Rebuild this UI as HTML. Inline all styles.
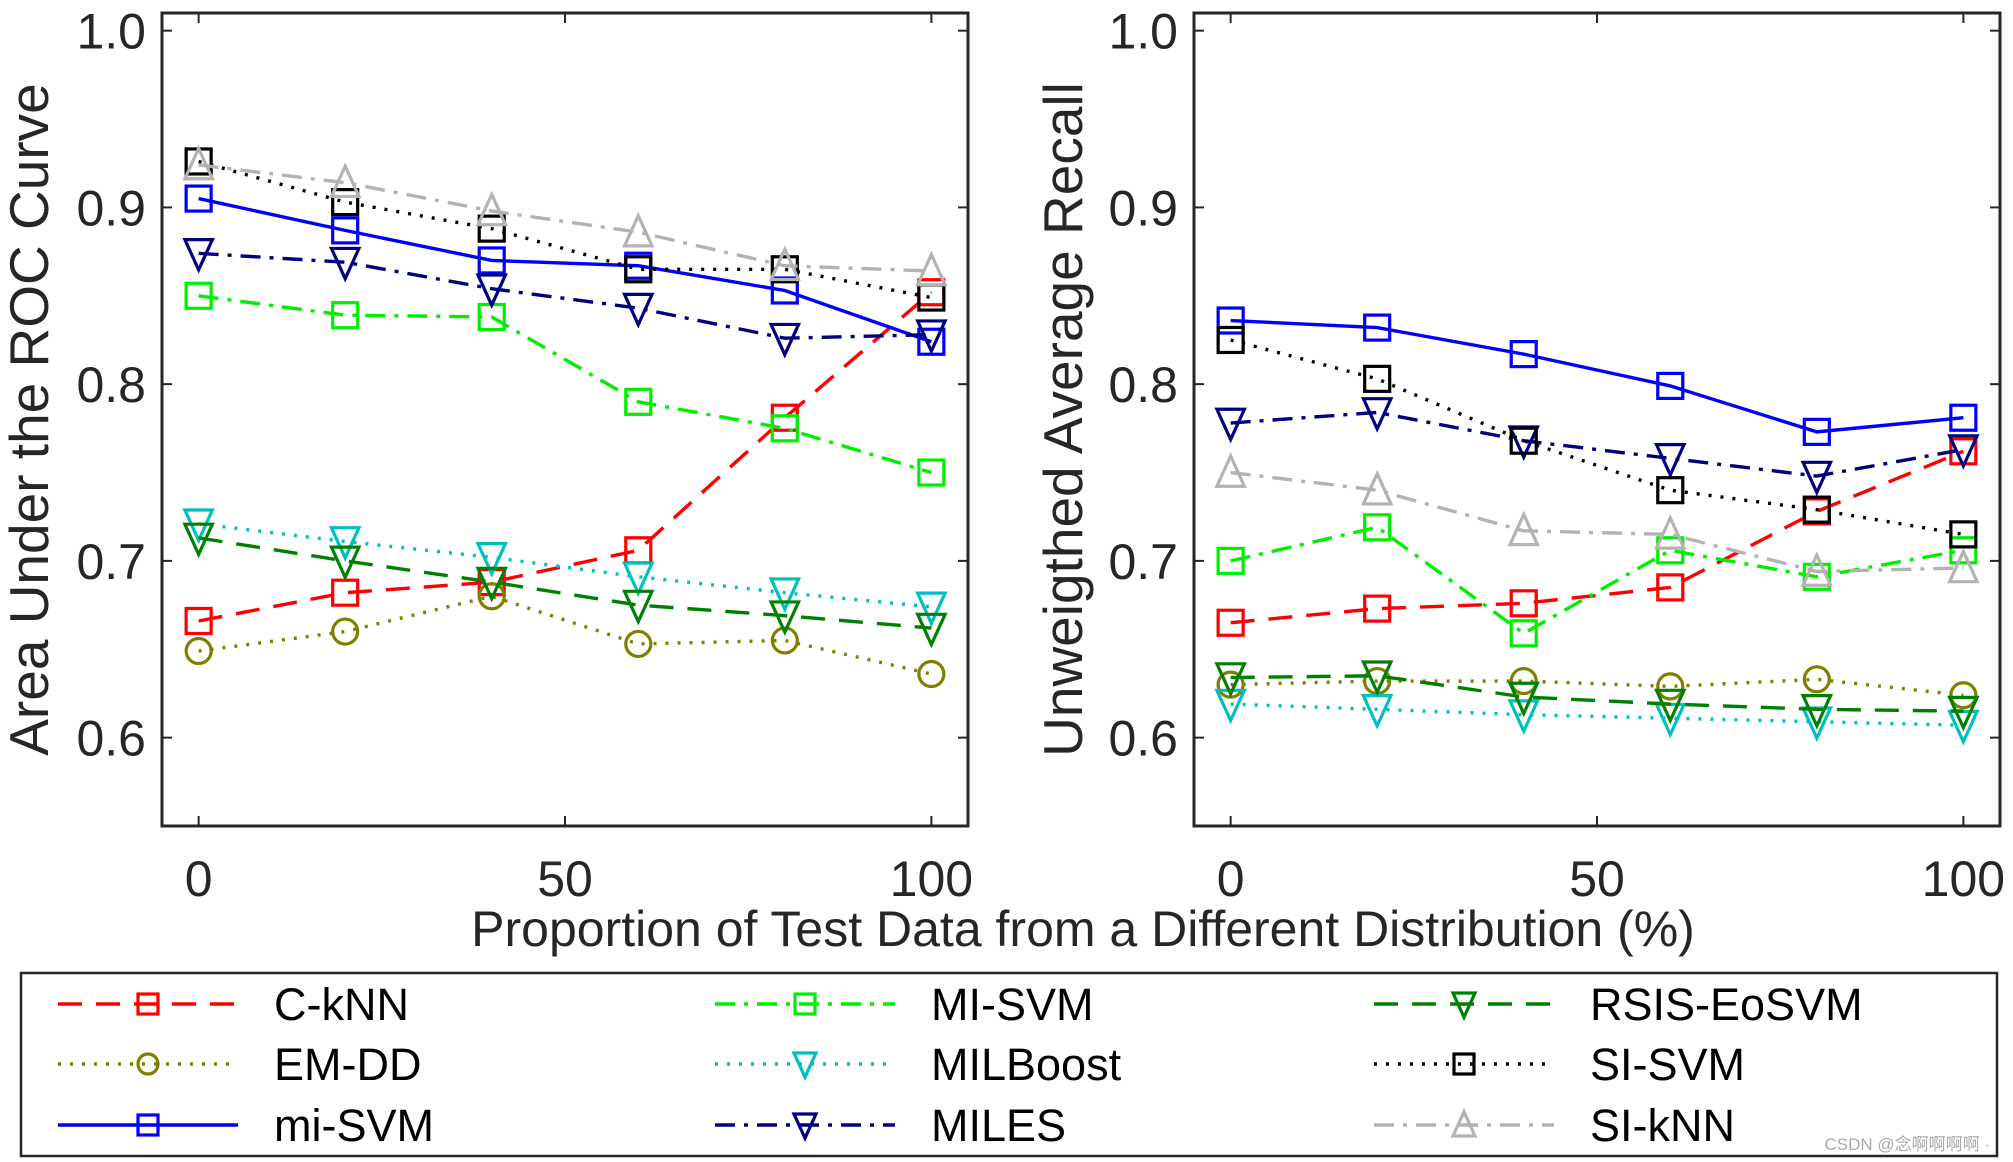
<!DOCTYPE html>
<html><head><meta charset="utf-8"><style>
html,body{margin:0;padding:0;background:#fff;}
svg{display:block;font-family:"Liberation Sans",sans-serif;}
</style></head><body>
<svg id="chart" width="2013" height="1162" viewBox="0 0 2013 1162" xmlns="http://www.w3.org/2000/svg"></svg>
<script>
const xValues = [0, 20, 40, 60, 80, 100];
const xTicks = [0, 50, 100];
const yTicks = [0.6, 0.7, 0.8, 0.9, 1.0];
const yTickLabels = ["0.6", "0.7", "0.8", "0.9", "1.0"];
const seriesNames = ["C-kNN","EM-DD","mi-SVM","MI-SVM","MILBoost","MILES","RSIS-EoSVM","SI-SVM","SI-kNN"];
const aucCkNN   = [0.666,0.682,0.688,0.706,0.781,0.852];
const aucEMDD   = [0.649,0.660,0.680,0.653,0.655,0.636];
const aucmiSVM  = [0.905,0.887,0.870,0.867,0.853,0.824];
const aucMISVM  = [0.850,0.839,0.838,0.790,0.775,0.750];
const aucMILBoost=[0.721,0.711,0.702,0.691,0.682,0.674];
const aucMILES  = [0.874,0.869,0.854,0.843,0.826,0.828];
const aucRSIS   = [0.713,0.700,0.688,0.675,0.669,0.662];
const aucSISVM  = [0.926,0.903,0.888,0.865,0.865,0.849];
const aucSIkNN  = [0.924,0.914,0.898,0.886,0.867,0.864];
const uarCkNN   = [0.665,0.673,0.676,0.685,0.728,0.762];
const uarEMDD   = [0.630,0.632,0.632,0.629,0.633,0.624];
const uarmiSVM  = [0.836,0.832,0.817,0.799,0.773,0.781];
const uarMISVM  = [0.700,0.719,0.659,0.706,0.691,0.706];
const uarMILBoost=[0.619,0.616,0.613,0.611,0.609,0.607];
const uarMILES  = [0.778,0.784,0.768,0.758,0.748,0.763];
const uarRSIS   = [0.634,0.635,0.623,0.619,0.616,0.615];
const uarSISVM  = [0.825,0.803,0.768,0.740,0.729,0.715];
const uarSIkNN  = [0.750,0.740,0.717,0.715,0.694,0.696];

const styles = [
 {c:"#ff0000",d:"24,14",m:"sq"},
 {c:"#808000",d:"3,9",m:"ci"},
 {c:"#0000ff",d:"",m:"sq"},
 {c:"#00ee00",d:"20,9,4,9",m:"sq"},
 {c:"#00bfbf",d:"3,9",m:"dn"},
 {c:"#000080",d:"20,9,4,9",m:"dn"},
 {c:"#008000",d:"24,14",m:"dn"},
 {c:"#000000",d:"3,9",m:"sq"},
 {c:"#b3b3b3",d:"20,9,4,9",m:"up"}
];
const aucSeries=[aucCkNN,aucEMDD,aucmiSVM,aucMISVM,aucMILBoost,aucMILES,aucRSIS,aucSISVM,aucSIkNN];
const uarSeries=[uarCkNN,uarEMDD,uarmiSVM,uarMISVM,uarMILBoost,uarMILES,uarRSIS,uarSISVM,uarSIkNN];
const NS="http://www.w3.org/2000/svg";
const svg=document.getElementById('chart');
function el(tag,attrs,parent){const e=document.createElementNS(NS,tag);for(const k in attrs)e.setAttribute(k,attrs[k]);(parent||svg).appendChild(e);return e;}
function marker(g,type,x,y,c,s){
  if(type==="sq") return el('rect',{x:x-s/2,y:y-s/2,width:s,height:s,fill:"none",stroke:c,"stroke-width":3.2},g);
  if(type==="ci") return el('circle',{cx:x,cy:y,r:s/2,fill:"none",stroke:c,"stroke-width":3.2},g);
  const h=s*0.55;
  if(type==="dn") return el('polygon',{points:`${x-h},${y-h} ${x+h},${y-h} ${x},${y+h*1.2}`,fill:"none",stroke:c,"stroke-width":3.2},g);
  return el('polygon',{points:`${x-h},${y+h} ${x+h},${y+h} ${x},${y-h*1.2}`,fill:"none",stroke:c,"stroke-width":3.2},g);
}
function panel(name,L,R,T,B,series,ylabel,ylx){
  const g=el('g',{});
  
  
  const xs=v=>L+(v+5)/110*(R-L);
  const ys=v=>B-(v-0.55)/(1.01-0.55)*(B-T);
  const box=el('rect',{x:L,y:T,width:R-L,height:B-T,fill:"none",stroke:"#262626","stroke-width":3},g);
  
  
  xTicks.forEach(t=>{const x=xs(t);
    el('line',{x1:x,y1:B,x2:x,y2:B-10,stroke:"#262626","stroke-width":2},g);
    el('line',{x1:x,y1:T,x2:x,y2:T+10,stroke:"#262626","stroke-width":2},g);
    const tx=el('text',{x:x,y:B+70,"text-anchor":"middle","font-size":50,fill:"#262626"},g);tx.textContent=t;
    
    
  });
  yTicks.forEach((t,i)=>{const y=ys(t);
    el('line',{x1:L,y1:y,x2:L+10,y2:y,stroke:"#262626","stroke-width":2},g);
    el('line',{x1:R,y1:y,x2:R-10,y2:y,stroke:"#262626","stroke-width":2},g);
    const tx=el('text',{x:L-16,y:y+18,"text-anchor":"end","font-size":50,fill:"#262626"},g);tx.textContent=yTickLabels[i];
    
    
  });
  const yl=el('text',{x:0,y:0,"text-anchor":"middle","font-size":55,fill:"#262626",transform:`translate(${ylx},${(T+B)/2}) rotate(-90)`},g);
  yl.textContent=ylabel;
  
  
  series.forEach((vals,si)=>{const st=styles[si];
    const sg=el('g',{},g);
    
    
    const pts=vals.map((v,i)=>xs(xValues[i])+","+ys(v)).join(" ");
    const pl=el('polyline',{points:pts,fill:"none",stroke:st.c,"stroke-width":3.4,"stroke-dasharray":st.d},sg);
    
    
    vals.forEach((v,i)=>{const m=marker(sg,st.m,xs(xValues[i]),ys(v),st.c,25);
      
      });
  });
}
panel('auc-panel',162,968,13,826,aucSeries,"Area Under the ROC Curve",48);
panel('uar-panel',1194,2000,13,826,uarSeries,"Unweigthed Average Recall",1082);
const xt=el('text',{x:1083,y:946,"text-anchor":"middle","font-size":50,fill:"#262626"});
xt.textContent="Proportion of Test Data from a Different Distribution (%)";


const lg=el('g',{});


const lb=el('rect',{x:21,y:973,width:1976,height:183,fill:"#fff",stroke:"#262626","stroke-width":2.5},lg);
const colX=[58,715,1374], rowY=[1004,1064,1125];
seriesNames.forEach((n,i)=>{const st=styles[i];const cx=colX[Math.floor(i/3)],cy=rowY[i%3];
  const e=el('g',{},lg);
  
  
  el('line',{x1:cx,y1:cy,x2:cx+180,y2:cy,stroke:st.c,"stroke-width":3.4,"stroke-dasharray":st.d},e);
  marker(e,st.m,cx+90,cy,st.c,20);
  const t=el('text',{x:cx+216,y:cy+16,"font-size":45,fill:"#000"},e);t.textContent=n;
});
const wm=el('text',{x:1990,y:1150,"text-anchor":"end","font-size":17,fill:"#aaa",
  style:'font-family:"Liberation Sans","Noto Sans CJK SC",sans-serif'});
wm.textContent="CSDN @念啊啊啊啊 ·";


</script>
</body></html>
